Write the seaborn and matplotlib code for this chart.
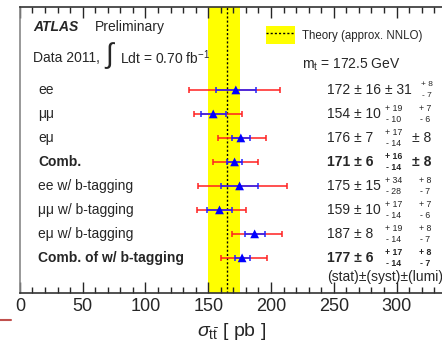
import numpy as np
import pandas as pd
import matplotlib.pyplot as plt
import seaborn as sns
from matplotlib.patches import Patch
from matplotlib.lines import Line2D
from matplotlib.ticker import MultipleLocator

channels = ['ee', 'μμ', 'eμ', 'Comb.', 'ee w/ b-tagging', 'μμ w/ b-tagging',
            'eμ w/ b-tagging', 'Comb. of w/ b-tagging']
xsec = [172, 154, 176, 171, 175, 159, 187, 177]
stat = [16, 10, 7, 6, 15, 10, 8, 6]
syst_up = ['31', '+ 19', '+ 17', '+ 16', '+ 34', '+ 17', '+ 19', '+ 17']
syst_dn = ['', '- 10', '- 14', '- 14', '- 28', '- 14', '- 14', '- 14']
lumi_up = ['+ 8', '+ 7', '8', '8', '+ 8', '+ 7', '+ 8', '+ 8']
lumi_dn = ['- 7', '- 6', '', '', '- 7', '- 6', '- 7', '- 7']
tot_up = [35, 23, 20, 19, 38, 21, 22, 20]
tot_dn = [37, 15, 18, 17, 33, 18, 18, 17]
bold_rows = [3, 7]

theory = 165
theory_lo, theory_hi = 149.5, 175.5

df = pd.DataFrame({'channel': channels, 'xsec': xsec, 'row': range(len(channels))})

sns.set_theme(style="ticks")
plt.rcParams['font.family'] = ['Liberation Sans', 'DejaVu Sans']
plt.rcParams['mathtext.fontset'] = 'custom'
plt.rcParams['mathtext.rm'] = 'Liberation Sans'
plt.rcParams['mathtext.it'] = 'Liberation Sans:italic'

fig = plt.figure(figsize=(4.42, 3.47), dpi=100)
ax = fig.add_axes([0.045, 0.156, 0.96, 0.824])

# theory band
ax.axvspan(theory_lo, theory_hi, color='#ffff00', lw=0, zorder=0)
ax.axvline(theory, color='black', ls=(0, (1.5, 1.5)), lw=1, zorder=1)

# total (red) and stat (blue) error bars
ax.errorbar(df['xsec'], df['row'], xerr=[tot_dn, tot_up], fmt='none',
            ecolor='#ff2020', elinewidth=1.1, capsize=2.5, capthick=1.1, zorder=2)
ax.errorbar(df['xsec'], df['row'], xerr=stat, fmt='none',
            ecolor='#2020ff', elinewidth=1.1, capsize=2.5, capthick=1.1, zorder=3)
sns.scatterplot(data=df, x='xsec', y='row', marker='^', color='#0000ff',
                s=40, edgecolor='none', ax=ax, zorder=4)

ax.set_xlim(0, 338)
ax.set_ylim(8.46, -3.46)
ax.xaxis.set_major_locator(MultipleLocator(50))
ax.xaxis.set_minor_locator(MultipleLocator(10))
ax.tick_params(axis='x', which='both', direction='in', top=True, bottom=True,
               labelsize=13, pad=4)
ax.tick_params(axis='x', which='major', length=8, width=1)
ax.tick_params(axis='x', which='minor', length=4, width=1)
ax.set_yticks([])
for s in ['left', 'bottom', 'top']:
    ax.spines[s].set_color('#333333')
    ax.spines[s].set_linewidth(1.2)
ax.spines['left'].set_color('#888888')
ax.spines['right'].set_visible(False)
ax.set_xlabel(r'$\sigma_{\mathrm{t\bar{t}}}$ [ pb ]', fontsize=14, labelpad=4)
ax.set_ylabel('')

# channel labels and numbers
for i, name in enumerate(channels):
    w = 'bold' if i in bold_rows else 'normal'
    ax.text(14.5, i, name, fontsize=10, fontweight=w, va='center', ha='left')
    if i == 0:
        main = f'{xsec[i]} ± {stat[i]} ± {syst_up[i]}'
    else:
        main = f'{xsec[i]} ± {stat[i]}'
    ax.text(245, i, main, fontsize=10, fontweight=w, va='center', ha='left')
    if i == 0:
        ax.text(324, i - 0.22, lumi_up[i], fontsize=6, va='center', ha='center')
        ax.text(324, i + 0.24, lumi_dn[i], fontsize=6, va='center', ha='center')
        continue
    ax.text(298, i - 0.22, syst_up[i], fontsize=6.3, fontweight=w, va='center', ha='center')
    ax.text(298, i + 0.24, syst_dn[i], fontsize=6.3, fontweight=w, va='center', ha='center')
    if lumi_dn[i]:
        ax.text(323, i - 0.22, lumi_up[i], fontsize=6.3, fontweight=w, va='center', ha='center')
        ax.text(323, i + 0.24, lumi_dn[i], fontsize=6.3, fontweight=w, va='center', ha='center')
    else:
        ax.text(312, i, '± ' + lumi_up[i], fontsize=10, fontweight=w, va='center', ha='left')

ax.text(245, 7.8, '(stat)±(syst)±(lumi)', fontsize=10, va='center', ha='left')

# header texts
ax.text(10.5, -2.62, 'ATLAS', fontsize=10, fontweight='bold', fontstyle='italic', va='center')
ax.text(60, -2.62, 'Preliminary', fontsize=10, va='center')
ax.text(10.5, -1.35, 'Data 2011,', fontsize=10, va='center')
ax.text(71, -1.45, '∫', fontsize=20, va='center', ha='center')
ax.text(80, -1.35, r'Ldt = 0.70 fb$^{-1}$', fontsize=10, va='center')
ax.text(225, -1.05, r'm$_{\rm t}$ = 172.5 GeV', fontsize=10, va='center')

handle = (Patch(facecolor='#ffff00', edgecolor='none'),
          Line2D([], [], color='black', ls=(0, (1.5, 1.5)), lw=1))
ax.legend([handle], ['Theory (approx. NNLO)'], loc='upper left',
          bbox_to_anchor=(0.568, 0.948), frameon=False, fontsize=8.3,
          handlelength=2.6, handleheight=2.0, handletextpad=0.6, borderaxespad=0)

# slide decoration
fig.add_artist(Line2D([0.0, 0.025], [0.078, 0.078], color='#c0504d', lw=1.5))

fig.savefig('out.png', dpi=100)
